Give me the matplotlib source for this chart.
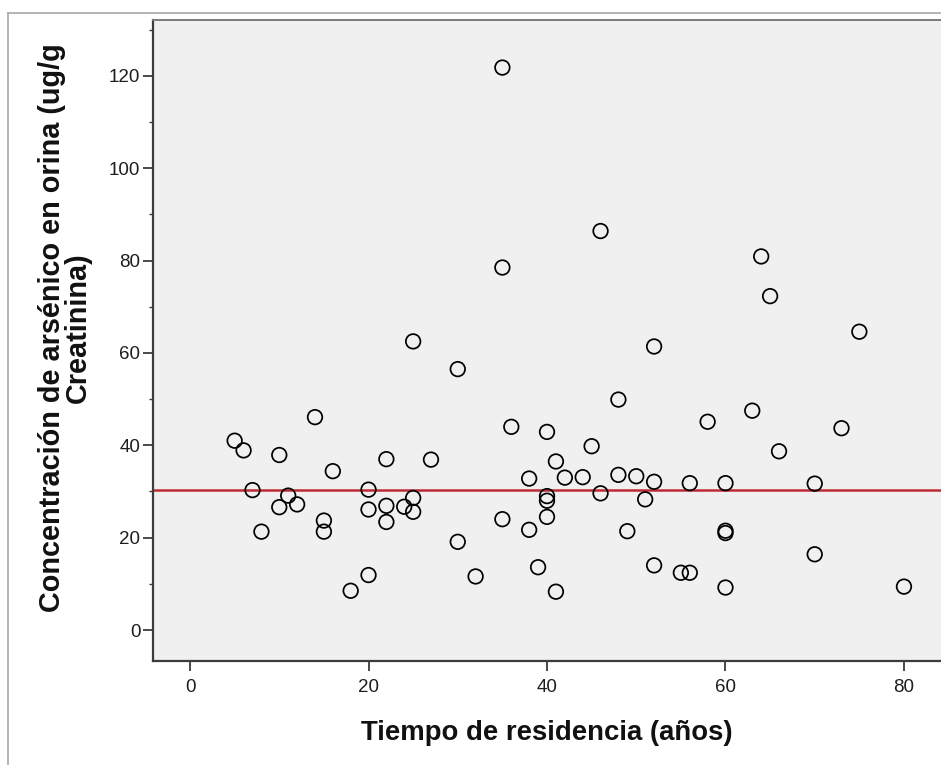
import matplotlib
matplotlib.use("Agg")
import matplotlib.pyplot as plt
from matplotlib.lines import Line2D
from matplotlib.ticker import MultipleLocator

plt.rcParams['font.family'] = ['Liberation Sans', 'DejaVu Sans']

# Data
tiempo = [5, 6, 7, 8, 10, 10, 11, 12, 14, 15, 15, 16, 18, 20, 20, 20, 22, 22, 22, 24,
          25, 25, 25, 27, 30, 30, 32, 35, 35, 35, 36, 38, 38, 39, 40, 40, 40, 40, 41, 41,
          42, 44, 45, 46, 46, 48, 48, 49, 50, 51, 52, 52, 52, 55, 56, 56, 58, 60, 60, 60,
          60, 63, 64, 65, 66, 70, 70, 73, 75, 80]
arsenico = [41.0, 38.9, 30.3, 21.3, 37.9, 26.6, 29.1, 27.2, 46.1, 23.7, 21.3, 34.4, 8.5, 30.4, 26.1, 11.9, 37.0, 26.9, 23.4, 26.7,
            62.5, 28.6, 25.6, 36.9, 56.5, 19.1, 11.6, 121.8, 78.5, 24.0, 44.0, 32.8, 21.7, 13.6, 42.9, 29.0, 28.0, 24.5, 36.5, 8.3,
            33.0, 33.1, 39.8, 86.4, 29.6, 49.9, 33.6, 21.4, 33.3, 28.3, 61.4, 32.1, 14.0, 12.4, 12.4, 31.8, 45.1, 31.8, 21.5, 21.0,
            9.2, 47.5, 80.9, 72.3, 38.7, 31.7, 16.4, 43.7, 64.6, 9.4]
media = 30.3
x_ticks = [0, 20, 40, 60, 80]
y_ticks = [0, 20, 40, 60, 80, 100, 120]
x_label = "Tiempo de residencia (años)"
y_label = "Concentración de arsénico en orina (ug/g\nCreatinina)"

W, H = 941, 765
fig = plt.figure(figsize=(W / 100, H / 100), dpi=100)
fig.patch.set_facecolor('white')

# outer frame lines
fig.add_artist(Line2D([8 / W, 8 / W], [0, 1 - 13 / H], color='#a8a8a8', lw=1.2))
fig.add_artist(Line2D([8 / W, 1], [1 - 13 / H, 1 - 13 / H], color='#a8a8a8', lw=1.2))

left, right, top, bottom = 153, 941, 20, 661
ax = fig.add_axes([left / W, 1 - bottom / H, (right - left) / W, (bottom - top) / H])
ax.set_facecolor('#f0f0f0')

ax.scatter(tiempo, arsenico, s=110, facecolors='none', edgecolors='black', linewidths=1.25, zorder=3)
ax.axhline(media, color='#c02a35', lw=1.8, zorder=2)

ax.set_xlim(-4.15, 84.15)
ax.set_ylim(-6.71, 132.1)
ax.set_xticks(x_ticks)
ax.set_yticks(y_ticks)
ax.yaxis.set_minor_locator(MultipleLocator(10))

for s in ['left', 'bottom']:
    ax.spines[s].set_color('#3c3c3c')
    ax.spines[s].set_linewidth(1.6)
ax.spines['top'].set_color('#7a7a7a')
ax.spines['top'].set_linewidth(1.4)
ax.spines['right'].set_visible(False)

ax.tick_params(axis='x', which='major', direction='out', length=7, width=1.3, color='#3c3c3c',
               labelsize=13.5, pad=6, labelcolor='#1e1e1e')
ax.tick_params(axis='y', which='major', direction='out', length=7, width=1.3, color='#3c3c3c',
               labelsize=13.5, pad=2, labelcolor='#1e1e1e')
ax.tick_params(axis='y', which='minor', direction='out', length=3, width=1.0, color='#3c3c3c')

fig.text((190 + 8.925 * 40) / W, 1 - 733 / H, x_label, ha='center', va='center',
         fontsize=19.8, fontweight='bold', color='#111111')
fig.text(65 / W, 1 - 328 / H, y_label, ha='center', va='center', rotation=90,
         multialignment='center', linespacing=0.9,
         fontsize=20.8, fontweight='bold', color='#111111')

fig.savefig('out.png', dpi=100)
